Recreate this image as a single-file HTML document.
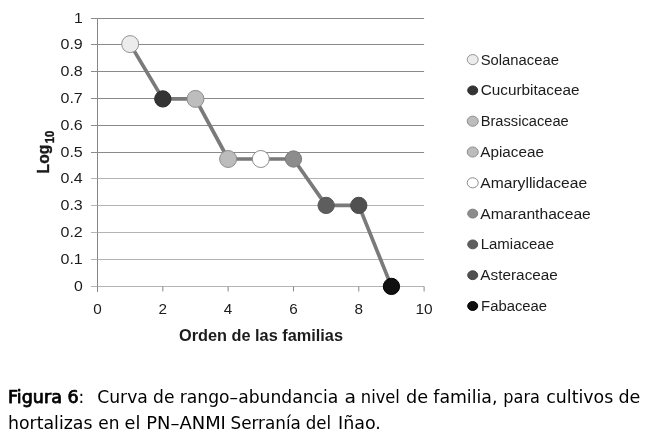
<!DOCTYPE html>
<html lang="es"><head><meta charset="utf-8"><title>Figura 6</title>
<style>html,body{margin:0;padding:0;background:#fff}body{width:648px;height:442px;overflow:hidden;position:relative}
svg{position:absolute;left:0;top:0;display:block;will-change:transform}
svg text{font-family:"Liberation Sans",sans-serif;fill:#1c1c1c}
svg text.c{font-family:"DejaVu Sans","Liberation Sans",sans-serif;fill:#000}
</style></head><body>
<svg width="648" height="442" viewBox="0 0 648 442">
<rect width="648" height="442" fill="#fff"/>
<line x1="97.5" x2="424.1" y1="259.50" y2="259.50" stroke="#b4b4b4" stroke-width="1"/>
<line x1="97.5" x2="424.1" y1="232.50" y2="232.50" stroke="#b4b4b4" stroke-width="1"/>
<line x1="97.5" x2="424.1" y1="205.50" y2="205.50" stroke="#b4b4b4" stroke-width="1"/>
<line x1="97.5" x2="424.1" y1="178.50" y2="178.50" stroke="#b4b4b4" stroke-width="1"/>
<line x1="97.5" x2="424.1" y1="152.50" y2="152.50" stroke="#8a8a8a" stroke-width="1"/>
<line x1="97.5" x2="424.1" y1="125.50" y2="125.50" stroke="#8a8a8a" stroke-width="1"/>
<line x1="97.5" x2="424.1" y1="98.50" y2="98.50" stroke="#8a8a8a" stroke-width="1"/>
<line x1="97.5" x2="424.1" y1="71.50" y2="71.50" stroke="#8a8a8a" stroke-width="1"/>
<line x1="97.5" x2="424.1" y1="44.50" y2="44.50" stroke="#8a8a8a" stroke-width="1"/>
<line x1="97.5" x2="424.1" y1="18.50" y2="18.50" stroke="#8a8a8a" stroke-width="1"/>
<line x1="97.5" x2="97.5" y1="18.5" y2="292.0" stroke="#868686" stroke-width="1"/>
<line x1="97.5" x2="424.1" y1="286.5" y2="286.5" stroke="#b4b4b4" stroke-width="1"/>
<line x1="91.0" x2="97.5" y1="286.50" y2="286.50" stroke="#b4b4b4" stroke-width="1"/>
<line x1="91.0" x2="97.5" y1="259.50" y2="259.50" stroke="#b4b4b4" stroke-width="1"/>
<line x1="91.0" x2="97.5" y1="232.50" y2="232.50" stroke="#b4b4b4" stroke-width="1"/>
<line x1="91.0" x2="97.5" y1="205.50" y2="205.50" stroke="#b4b4b4" stroke-width="1"/>
<line x1="91.0" x2="97.5" y1="178.50" y2="178.50" stroke="#b4b4b4" stroke-width="1"/>
<line x1="91.0" x2="97.5" y1="152.50" y2="152.50" stroke="#8a8a8a" stroke-width="1"/>
<line x1="91.0" x2="97.5" y1="125.50" y2="125.50" stroke="#8a8a8a" stroke-width="1"/>
<line x1="91.0" x2="97.5" y1="98.50" y2="98.50" stroke="#8a8a8a" stroke-width="1"/>
<line x1="91.0" x2="97.5" y1="71.50" y2="71.50" stroke="#8a8a8a" stroke-width="1"/>
<line x1="91.0" x2="97.5" y1="44.50" y2="44.50" stroke="#8a8a8a" stroke-width="1"/>
<line x1="91.0" x2="97.5" y1="18.50" y2="18.50" stroke="#8a8a8a" stroke-width="1"/>
<line x1="97.50" x2="97.50" y1="286.5" y2="291.5" stroke="#868686" stroke-width="1"/>
<line x1="162.82" x2="162.82" y1="286.5" y2="291.5" stroke="#868686" stroke-width="1"/>
<line x1="228.14" x2="228.14" y1="286.5" y2="291.5" stroke="#868686" stroke-width="1"/>
<line x1="293.46" x2="293.46" y1="286.5" y2="291.5" stroke="#868686" stroke-width="1"/>
<line x1="358.78" x2="358.78" y1="286.5" y2="291.5" stroke="#868686" stroke-width="1"/>
<line x1="424.10" x2="424.10" y1="286.5" y2="291.5" stroke="#868686" stroke-width="1"/>
<text x="74.00" y="291.35" font-size="14.6" textLength="8.8" lengthAdjust="spacingAndGlyphs">0</text>
<text x="60.50" y="264.35" font-size="14.6" textLength="22.3" lengthAdjust="spacingAndGlyphs">0.1</text>
<text x="60.50" y="237.35" font-size="14.6" textLength="22.3" lengthAdjust="spacingAndGlyphs">0.2</text>
<text x="60.50" y="210.35" font-size="14.6" textLength="22.3" lengthAdjust="spacingAndGlyphs">0.3</text>
<text x="60.50" y="183.35" font-size="14.6" textLength="22.3" lengthAdjust="spacingAndGlyphs">0.4</text>
<text x="60.50" y="157.35" font-size="14.6" textLength="22.3" lengthAdjust="spacingAndGlyphs">0.5</text>
<text x="60.50" y="130.35" font-size="14.6" textLength="22.3" lengthAdjust="spacingAndGlyphs">0.6</text>
<text x="60.50" y="103.35" font-size="14.6" textLength="22.3" lengthAdjust="spacingAndGlyphs">0.7</text>
<text x="60.50" y="76.35" font-size="14.6" textLength="22.3" lengthAdjust="spacingAndGlyphs">0.8</text>
<text x="60.50" y="49.35" font-size="14.6" textLength="22.3" lengthAdjust="spacingAndGlyphs">0.9</text>
<text x="74.00" y="23.35" font-size="14.6" textLength="8.8" lengthAdjust="spacingAndGlyphs">1</text>
<text x="93.25" y="314.1" font-size="14.6" textLength="8.5" lengthAdjust="spacingAndGlyphs">0</text>
<text x="158.57" y="314.1" font-size="14.6" textLength="8.5" lengthAdjust="spacingAndGlyphs">2</text>
<text x="223.89" y="314.1" font-size="14.6" textLength="8.5" lengthAdjust="spacingAndGlyphs">4</text>
<text x="289.21" y="314.1" font-size="14.6" textLength="8.5" lengthAdjust="spacingAndGlyphs">6</text>
<text x="354.53" y="314.1" font-size="14.6" textLength="8.5" lengthAdjust="spacingAndGlyphs">8</text>
<text x="415.50" y="314.1" font-size="14.6" textLength="17.2" lengthAdjust="spacingAndGlyphs">10</text>
<polyline points="130.16,44.10 162.82,98.90 195.48,98.90 228.14,159.00 260.80,159.00 293.46,159.00 326.12,205.40 358.78,205.40 391.44,286.40" fill="none" stroke="#7a7a7a" stroke-width="3.7" stroke-linejoin="round"/>
<circle cx="130.16" cy="44.10" r="8.5" fill="#ececec" stroke="#939393" stroke-width="1"/>
<circle cx="162.82" cy="98.90" r="8.15" fill="#343434" stroke="#2a2a2a" stroke-width="1"/>
<circle cx="195.48" cy="98.90" r="8.5" fill="#bdbdbd" stroke="#8e8e8e" stroke-width="1"/>
<circle cx="228.14" cy="159.00" r="8.5" fill="#bcbcbc" stroke="#8e8e8e" stroke-width="1"/>
<circle cx="260.80" cy="159.00" r="8.5" fill="#ffffff" stroke="#8c8c8c" stroke-width="1"/>
<circle cx="293.46" cy="159.00" r="8.15" fill="#8c8c8c" stroke="#7c7c7c" stroke-width="1"/>
<circle cx="326.12" cy="205.40" r="8.15" fill="#5e5e5e" stroke="#555" stroke-width="1"/>
<circle cx="358.78" cy="205.40" r="8.15" fill="#505050" stroke="#484848" stroke-width="1"/>
<circle cx="391.44" cy="286.40" r="8.15" fill="#101010" stroke="#000" stroke-width="1"/>
<ellipse cx="472.7" cy="59.60" rx="5.5" ry="5.05" fill="#ececec" stroke="#939393" stroke-width="1"/>
<text x="480.7" y="64.50" font-size="15.2" textLength="78.3" lengthAdjust="spacingAndGlyphs">Solanaceae</text>
<ellipse cx="472.7" cy="90.40" rx="5.0" ry="4.45" fill="#343434" stroke="#2a2a2a" stroke-width="1"/>
<text x="480.7" y="95.30" font-size="15.2" textLength="98.8" lengthAdjust="spacingAndGlyphs">Cucurbitaceae</text>
<ellipse cx="472.7" cy="121.20" rx="5.5" ry="5.05" fill="#bdbdbd" stroke="#8e8e8e" stroke-width="1"/>
<text x="480.7" y="126.10" font-size="15.2" textLength="88.0" lengthAdjust="spacingAndGlyphs">Brassicaceae</text>
<ellipse cx="472.7" cy="152.00" rx="5.5" ry="5.05" fill="#bcbcbc" stroke="#8e8e8e" stroke-width="1"/>
<text x="480.3" y="156.90" font-size="15.2" textLength="63.6" lengthAdjust="spacingAndGlyphs">Apiaceae</text>
<ellipse cx="472.7" cy="182.80" rx="5.5" ry="5.05" fill="#ffffff" stroke="#8c8c8c" stroke-width="1"/>
<text x="480.3" y="187.70" font-size="15.2" textLength="106.8" lengthAdjust="spacingAndGlyphs">Amaryllidaceae</text>
<ellipse cx="472.7" cy="213.60" rx="5.0" ry="4.45" fill="#8c8c8c" stroke="#7c7c7c" stroke-width="1"/>
<text x="480.3" y="218.50" font-size="15.2" textLength="110.5" lengthAdjust="spacingAndGlyphs">Amaranthaceae</text>
<ellipse cx="472.7" cy="244.40" rx="5.0" ry="4.45" fill="#5e5e5e" stroke="#555" stroke-width="1"/>
<text x="480.7" y="249.30" font-size="15.2" textLength="73.3" lengthAdjust="spacingAndGlyphs">Lamiaceae</text>
<ellipse cx="472.7" cy="275.20" rx="5.0" ry="4.45" fill="#505050" stroke="#484848" stroke-width="1"/>
<text x="480.3" y="280.10" font-size="15.2" textLength="77.6" lengthAdjust="spacingAndGlyphs">Asteraceae</text>
<ellipse cx="472.7" cy="306.00" rx="5.0" ry="4.45" fill="#101010" stroke="#000" stroke-width="1"/>
<text x="481.1" y="310.90" font-size="15.2" textLength="66.0" lengthAdjust="spacingAndGlyphs">Fabaceae</text>
<text x="261" y="340.7" font-size="15.8" font-weight="bold" fill="#000" text-anchor="middle" textLength="164" lengthAdjust="spacingAndGlyphs">Orden de las familias</text>
<text transform="translate(49.4 173.4) rotate(-90)" font-size="17.2" font-weight="bold" fill="#000" stroke="#000" stroke-width="0.35" textLength="28.6" lengthAdjust="spacingAndGlyphs">Log</text>
<text transform="translate(54 143.2) rotate(-90)" font-size="12.2" font-weight="bold" fill="#000" stroke="#000" stroke-width="0.35" textLength="12.4" lengthAdjust="spacingAndGlyphs">10</text>
<text class="c" x="8.00" y="402.9" font-size="16.8" stroke="#000" stroke-width="0.75" stroke-linejoin="round" textLength="70.70" lengthAdjust="spacingAndGlyphs">Figura 6</text>
<text class="c" x="97.20" y="402.9" font-size="16.8" textLength="50.70" lengthAdjust="spacingAndGlyphs">Curva</text>
<text class="c" x="153.10" y="402.9" font-size="16.8" textLength="21.40" lengthAdjust="spacingAndGlyphs">de</text>
<text class="c" x="179.80" y="402.9" font-size="16.8" textLength="158.40" lengthAdjust="spacingAndGlyphs">rango–abundancia</text>
<text class="c" x="344.50" y="402.9" font-size="16.8" textLength="11.50" lengthAdjust="spacingAndGlyphs">a</text>
<text class="c" x="360.80" y="402.9" font-size="16.8" textLength="39.10" lengthAdjust="spacingAndGlyphs">nivel</text>
<text class="c" x="406.10" y="402.9" font-size="16.8" textLength="22.10" lengthAdjust="spacingAndGlyphs">de</text>
<text class="c" x="433.30" y="402.9" font-size="16.8" textLength="64.10" lengthAdjust="spacingAndGlyphs">familia,</text>
<text class="c" x="503.30" y="402.9" font-size="16.8" textLength="36.60" lengthAdjust="spacingAndGlyphs">para</text>
<text class="c" x="546.30" y="402.9" font-size="16.8" textLength="66.90" lengthAdjust="spacingAndGlyphs">cultivos</text>
<text class="c" x="618.50" y="402.9" font-size="16.8" textLength="21.90" lengthAdjust="spacingAndGlyphs">de</text>
<text class="c" x="78.6" y="402.9" font-size="16.8">:</text>
<text class="c" x="8.00" y="429.2" font-size="16.8" textLength="84.50" lengthAdjust="spacingAndGlyphs">hortalizas</text>
<text class="c" x="98.30" y="429.2" font-size="16.8" textLength="21.20" lengthAdjust="spacingAndGlyphs">en</text>
<text class="c" x="124.60" y="429.2" font-size="16.8" textLength="15.80" lengthAdjust="spacingAndGlyphs">el</text>
<text class="c" x="146.30" y="429.2" font-size="16.8" textLength="79.60" lengthAdjust="spacingAndGlyphs">PN–ANMI</text>
<text class="c" x="230.50" y="429.2" font-size="16.8" textLength="70.40" lengthAdjust="spacingAndGlyphs">Serranía</text>
<text class="c" x="305.80" y="429.2" font-size="16.8" textLength="25.40" lengthAdjust="spacingAndGlyphs">del</text>
<text class="c" x="338.00" y="429.2" font-size="16.8" textLength="42.90" lengthAdjust="spacingAndGlyphs">Iñao.</text>
</svg>
</body></html>
